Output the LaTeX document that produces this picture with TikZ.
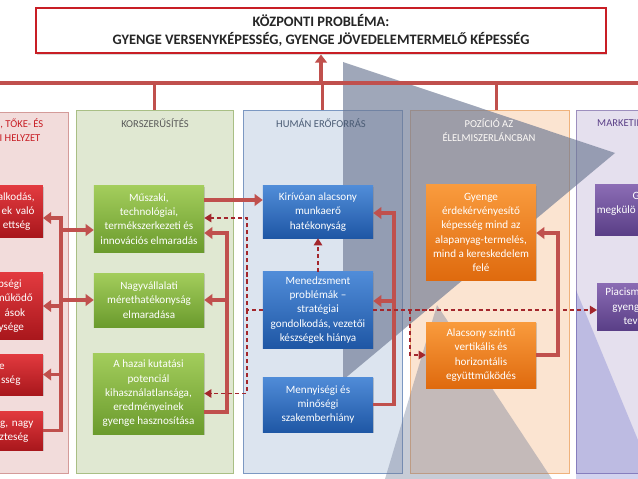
\documentclass[tikz,border=0pt]{standalone}
\usepackage{fontspec}
\setmainfont{Carlito}
\usetikzlibrary{arrows.meta, positioning, shadows}
\definecolor{cred}{HTML}{C0504D}
\definecolor{cdash}{HTML}{A3262C}
\definecolor{ctopred}{HTML}{C81E25}
\definecolor{cslate}{HTML}{6C7893}
\definecolor{ctitle}{HTML}{595959}
\definecolor{predfill}{HTML}{F2DCDB}
\definecolor{predline}{HTML}{D49B99}
\definecolor{pgreenfill}{HTML}{E0E8D2}
\definecolor{pgreenline}{HTML}{A9BF85}
\definecolor{pbluefill}{HTML}{DCE4EF}
\definecolor{pblueline}{HTML}{7C98C2}
\definecolor{porangefill}{HTML}{FBE4D1}
\definecolor{porangeline}{HTML}{EFB27C}
\definecolor{ppurplefill}{HTML}{E5E0EE}
\definecolor{ppurpleline}{HTML}{9D8FBE}
\definecolor{redtop}{HTML}{E23A3F}
\definecolor{redbot}{HTML}{A9171C}
\definecolor{greentop}{HTML}{A3CD5C}
\definecolor{greenbot}{HTML}{6B9B2D}
\definecolor{bluetop}{HTML}{508CD8}
\definecolor{bluebot}{HTML}{1F57A5}
\definecolor{orangetop}{HTML}{F99B3D}
\definecolor{orangebot}{HTML}{DF6A0E}
\definecolor{purpletop}{HTML}{8B6CB4}
\definecolor{purplebot}{HTML}{5A3F87}
\newcommand{\lpad}[1]{\rule{#1}{0pt}}
\tikzset{
  every picture/.style={font=\fontsize{9.5}{12.2}\selectfont},
  panel/.style 2 args={draw=#2, fill=#1, line width=0.8pt},
  card/.style 2 args={top color=#1, bottom color=#2, draw=none, text=white, align=center, inner sep=0pt,
    drop shadow={shadow xshift=0.8pt, shadow yshift=-1.2pt, opacity=0.35}},
  heading/.style={font=\fontsize{9}{12}\selectfont, text=ctitle, align=center},
  conn/.style={draw=cred, line width=3pt, -{Triangle[length=7pt, width=10pt]}},
  dconn/.style={draw=cdash, line width=1.5pt, dash pattern=on 3.5pt off 2.5pt, -{Triangle[length=6pt, width=7pt]}},
  busline/.style={draw=cred, line width=2.8pt},
}

\begin{document}
\begin{tikzpicture}[x=0.03cm, y=-0.03cm]
  \useasboundingbox (0,0) rectangle (638,479);
  \clip (0,0) rectangle (638,479);

  % columns
  \node[panel={predfill}{predline}, minimum width=3.84cm, minimum height=10.83cm] (redpanel) at (4,292.5) {};
  \node[panel={pgreenfill}{pgreenline}, minimum width=4.71cm, minimum height=10.89cm] (greenpanel) at (154.5,291.5) {};
  \node[panel={pbluefill}{pblueline}, minimum width=4.77cm, minimum height=10.89cm] (bluepanel) at (322.5,291.5) {};
  \node[panel={porangefill}{porangeline}, minimum width=4.77cm, minimum height=10.89cm] (orangepanel) at (489.5,291.5) {};
  \node[panel={ppurplefill}{ppurpleline}, minimum width=4.92cm, minimum height=10.89cm] (purplepanel) at (658,291.5) {};

  % background wedges
  \fill[cslate, opacity=0.65] (343,62) -- (615,153) -- (343,380) -- cycle;
  \fill[cslate, opacity=0.38] (437,305) -- (552,479) -- (385,479) -- cycle;
  \fill[cslate!60!blue, opacity=0.24] (576,290) -- (638,440) -- (638,479) -- (576,479) -- cycle;

  % column headings
  \node[heading, text=ctopred, align=right, anchor=east, inner sep=0pt] (redhead) at (43.5,130)
    {, TŐKE- ÉS\\I HELYZET\lpad{2.5pt}};
  \node[heading] (greenhead) at (155,123) {KORSZERŰSÍTÉS};
  \node[heading, text=pblueline!60!black] (bluehead) at (321,123) {HUMÁN ERŐFORRÁS};
  \node[heading, text=white!85!porangefill] (orangehead) at (489,130) {POZÍCIÓ AZ\\ÉLELMISZERLÁNCBAN};
  \node[heading, text=purplebot, anchor=west, inner sep=0pt] (purplehead) at (597,123) {MARKETIN};

  % central problem
  \node[draw=ctopred, line width=2.5pt, fill=white, minimum width=17.1cm, minimum height=1.35cm,
    align=center, font=\bfseries\fontsize{12.3}{15.3}\selectfont, text=black!85,
    drop shadow={shadow xshift=1pt, shadow yshift=-1.5pt, opacity=0.3}] (central) at (321,30.5)
    {KÖZPONTI PROBLÉMA:\\GYENGE VERSENYKÉPESSÉG, GYENGE JÖVEDELEMTERMELŐ KÉPESSÉG};

  % red column
  \node[card={redtop}{redbot}, text width=3cm, align=right, minimum height=1.53cm, anchor=east] (R1) at (43,211.5)
    {alkodás,\lpad{7pt}\\ek való\lpad{7pt}\\ettség\lpad{10.5pt}};
  \node[card={redtop}{redbot}, text width=3cm, align=right, minimum height=1.98cm, anchor=east] (R2) at (43,306)
    {bségi\lpad{18pt}\\működő\lpad{8.5pt}\\ások\lpad{15pt}\\ysége\lpad{16pt}};
  \node[card={redtop}{redbot}, text width=3cm, align=right, minimum height=1.23cm, anchor=east] (R3) at (43,374.5)
    {e\lpad{32.5pt}\\sség\lpad{19pt}};
  \node[card={redtop}{redbot}, text width=3cm, align=right, minimum height=1.17cm, anchor=east] (R4) at (43,430.5)
    {ág, nagy\lpad{8pt}\\zteség\lpad{12.3pt}};

  % green column
  \node[card={greentop}{greenbot}, minimum width=3.3cm, minimum height=1.98cm] (G1) at (149,219)
    {Műszaki,\\technológiai,\\termékszerkezeti és\\innovációs elmaradás};
  \node[card={greentop}{greenbot}, minimum width=3.3cm, minimum height=1.62cm] (G2) at (149,300)
    {Nagyvállalati\\mérethatékonyság\\elmaradása};
  \node[card={greentop}{greenbot}, minimum width=3.33cm, minimum height=2.43cm] (G3) at (148.5,393.5)
    {A hazai kutatási\\potenciál\\kihasználatlansága,\\eredményeinek\\gyenge hasznosítása};

  % blue column
  \node[card={bluetop}{bluebot}, minimum width=3.3cm, minimum height=1.56cm] (B1) at (318,212)
    {Kirívóan alacsony\\munkaerő\\hatékonyság};
  \node[card={bluetop}{bluebot}, minimum width=3.3cm, minimum height=2.28cm] (B2) at (318,310)
    {Menedzsment\\problémák –\\stratégiai\\gondolkodás, vezetői\\készségek hiánya};
  \node[card={bluetop}{bluebot}, minimum width=3.3cm, minimum height=1.65cm] (B3) at (318,404.5)
    {Mennyiségi és\\minőségi\\szakemberhiány};

  % orange column
  \node[card={orangetop}{orangebot}, minimum width=3.3cm, minimum height=2.85cm] (O1) at (481,232.5)
    {Gyenge\\érdekérvényesítő\\képesség mind az\\alapanyag-termelés,\\mind a kereskedelem\\felé};
  \node[card={orangetop}{orangebot}, minimum width=3.3cm, minimum height=1.98cm] (O2) at (481,355)
    {Alacsony szintű\\vertikális és\\horizontális\\együttműködés};

  % purple column
  \node[card={purpletop}{purplebot}, text width=4.95cm, align=left, minimum height=1.5cm, anchor=west] (P1) at (595,210)
    {\lpad{32pt}G\\\lpad{1.3pt}megkülö\\\mbox{}};
  \node[card={purpletop}{purplebot}, text width=4.95cm, align=left, minimum height=1.41cm, anchor=west] (P2) at (597,306.5)
    {\lpad{7pt}Piacism\\\lpad{13pt}gyeng\\\lpad{22.5pt}tev};

  % top bus
  \coordinate (busl) at (-5,83);
  \coordinate (busr) at (645,83);
  \draw[busline] (busl) -- (busr);
  \draw[busline] (greenpanel.north |- busl) -- (greenpanel.north);
  \draw[busline] (bluepanel.north |- busl) -- (bluepanel.north);
  \draw[busline] ([xshift=0.22cm]orangepanel.north |- busl) -- ([xshift=0.22cm]orangepanel.north);
  \draw[conn] (central.south |- busl) -- (central.south);

  % red column links
  \coordinate (lb) at (61,218);
  \draw[conn] (R4.east) -| (lb) -- (lb -| R1.east);
  \draw[conn] (lb |- R2.east) -- (R2.east);
  \draw[conn] (lb |- R3.east) -- (R3.east);
  \draw[conn] (lb |- 0,230) -- ([yshift=-0.33cm]G1.west);
  \draw[conn] (lb |- G2.west) -- (G2.west);

  % green column links
  \coordinate (gb) at (227,233);
  \draw[conn] ([yshift=-0.555cm]G3.east) -| (gb) -- (gb -| G1.east);
  \draw[conn] (gb |- G2.east) -- (G2.east);
  \draw[conn] ([yshift=0.57cm]G1.east) -- ([yshift=0.57cm]G1.east -| B1.west);

  % blue column links
  \coordinate (db) at (247,218);
  \draw[dconn] (B2.west) -| (db) -- (db -| G1.east);
  \draw[dconn] (db |- B2.west) |- (G3.east);
  \draw[dconn] (B2.north) -- (B1.south);
  \coordinate (bb) at (394,213);
  \draw[conn] (B3.east) -| (bb) -- (bb -| B1.east);
  \draw[conn] ([yshift=0.27cm]B2.east -| bb) -- ([yshift=0.27cm]B2.east);
  \coordinate (ob) at (410,309);
  \draw[dconn] (B2.east) -- (B2.east -| P2.west);
  \draw[dconn] (B2.east -| ob) |- (O2.west);

  % orange column links
  \coordinate (rb) at (558,233);
  \draw[conn] (O2.east) -| (rb) -- (rb -| O1.east);
\end{tikzpicture}
\end{document}
